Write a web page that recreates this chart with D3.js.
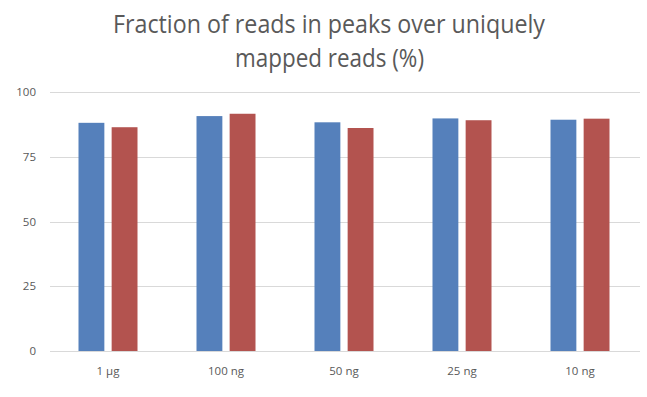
<!DOCTYPE html>
<html><head><meta charset="utf-8">
<script src="https://cdn.jsdelivr.net/npm/d3@7"></script>
<style>body{margin:0;background:#fff;}svg{display:block;}</style>
</head><body>
<script>
const categories = ["1 µg", "100 ng", "50 ng", "25 ng", "10 ng"];
const seriesA = [88.1, 90.7, 88.3, 89.8, 89.3];
const seriesB = [86.4, 91.6, 86.1, 89.1, 89.7];
const yTicks = [0, 25, 50, 75, 100];
const titleLines = ["Fraction of reads in peaks over uniquely", "mapped reads (%)"];

(function () {
const W = 647, H = 397;
const svg = d3.select("body").append("svg").attr("width", W).attr("height", H);
const mLeft = 49, mRight = 639, mTop = 92, mBottom = 351;
const x = d3.scaleBand().domain(categories).range([mLeft, mRight]);
const inner = d3.scaleBand().domain(["A","B"]).range([0, 59]).paddingInner(0.22);
const y = d3.scaleLinear().domain([0, 100]).range([mBottom, mTop]);

svg.append("g").selectAll("line").data(yTicks).join("line")
  .attr("x1", mLeft + 1).attr("x2", mRight + 1)
  .attr("y1", d => Math.round(y(d)) + 0.5).attr("y2", d => Math.round(y(d)) + 0.5)
  .attr("stroke", "#d9d9d9").attr("stroke-width", 1);

const yAxis = d3.axisLeft(y).tickValues(yTicks).tickSize(0).tickPadding(0);
const ga = svg.append("g").attr("transform", `translate(36,0)`).call(yAxis);
ga.select(".domain").remove();
ga.selectAll("text").attr("fill", "#595959").style("font-family", "'Open Sans', sans-serif").style("font-size", "11.5px");

const xAxis = d3.axisBottom(x).tickSize(0).tickPadding(0);
const gx = svg.append("g").attr("transform", `translate(0,${mBottom + 16})`).call(xAxis);
gx.select(".domain").remove();
gx.selectAll("text").attr("fill", "#595959").style("font-family", "'Open Sans', sans-serif").style("font-size", "11.5px");

const groups = svg.append("g").selectAll("g").data(categories).join("g")
  .attr("transform", d => `translate(${x(d) + (x.bandwidth() - 59) / 2},0)`);
groups.append("rect").attr("x", inner("A")).attr("width", inner.bandwidth())
  .attr("y", (d, i) => y(seriesA[i])).attr("height", (d, i) => y(0) - y(seriesA[i]))
  .attr("fill", "#5580bb");
groups.append("rect").attr("x", inner("B")).attr("width", inner.bandwidth())
  .attr("y", (d, i) => y(seriesB[i])).attr("height", (d, i) => y(0) - y(seriesB[i]))
  .attr("fill", "#b3534f");

const t = svg.append("g");
t.append("text").attr("x", 329).attr("y", 33).attr("text-anchor", "middle")
  .attr("textLength", 432).attr("lengthAdjust", "spacingAndGlyphs")
  .attr("fill", "#595959").style("font-family", "'Open Sans', sans-serif").style("font-size", "25px")
  .text(titleLines[0]);
t.append("text").attr("x", 329.5).attr("y", 67).attr("text-anchor", "middle")
  .attr("textLength", 189).attr("lengthAdjust", "spacingAndGlyphs")
  .attr("fill", "#595959").style("font-family", "'Open Sans', sans-serif").style("font-size", "25px")
  .text(titleLines[1]);
})();
</script>
</body></html>
